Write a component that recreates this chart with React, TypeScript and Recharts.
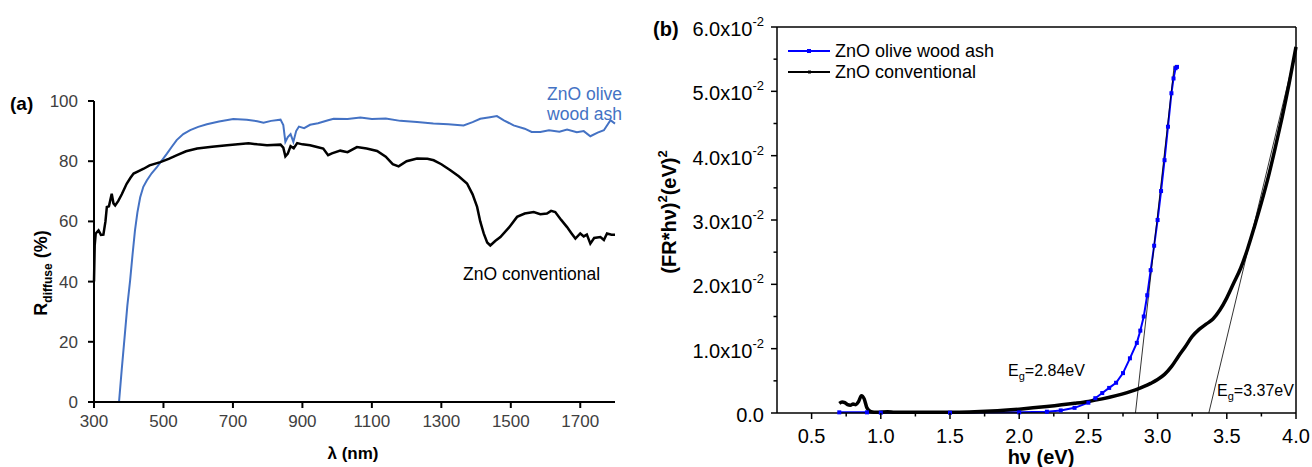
import React from 'react';
import { LineChart, Line, XAxis, YAxis, ReferenceLine } from 'recharts';

const FONT = '"Liberation Sans", Arial, Helvetica, sans-serif';

// ---------- Panel (a): diffuse reflectance ----------
const wavelengthTicks = [300, 500, 700, 900, 1100, 1300, 1500, 1700];
const reflectanceTicks = [0, 20, 40, 60, 80, 100];

const oliveAshLambda = [300, 372, 380, 389, 396, 404, 411, 418, 425, 433, 442, 452, 466, 481, 495, 510, 524, 538, 557, 577, 600, 625, 660, 701, 740, 770, 788, 810, 837, 845, 851, 858, 866, 874, 882, 890, 905, 922, 945, 974, 990, 1030, 1067, 1100, 1140, 1182, 1230, 1277, 1320, 1364, 1390, 1412, 1440, 1460, 1480, 1508, 1540, 1560, 1585, 1610, 1640, 1662, 1690, 1710, 1729, 1750, 1768, 1787, 1800];
const oliveAshR = [0, 0, 11, 22.7, 32, 40.4, 49, 57, 63, 68, 71.5, 73.6, 76, 78, 80.2, 82.5, 84.8, 87, 89, 90.3, 91.4, 92.3, 93.2, 94, 93.8, 93.3, 92.8, 93.4, 93.8, 92, 86.4, 88, 89, 86.4, 90, 91.5, 91, 92.1, 92.6, 93.6, 94.1, 94, 94.5, 94, 94.2, 93.4, 93, 92.5, 92.3, 91.9, 93, 94.1, 94.6, 95, 93.6, 91.9, 90.8, 89.7, 89.7, 90.3, 89.8, 90.5, 89.6, 90, 88.3, 89.5, 90.3, 93.6, 92.5];

const conventionalLambda = [300, 302, 305, 313, 320, 327, 333, 337, 343, 351, 356, 361, 370, 380, 394, 405, 414, 430, 443, 460, 491, 515, 539, 565, 597, 640, 683, 745, 770, 798, 837, 845, 851, 858, 866, 875, 885, 900, 922, 942, 960, 974, 985, 1009, 1030, 1057, 1085, 1115, 1140, 1160, 1177, 1200, 1230, 1260, 1278, 1300, 1326, 1350, 1374, 1390, 1403, 1412, 1422, 1432, 1441, 1455, 1470, 1495, 1518, 1540, 1566, 1585, 1604, 1616, 1628, 1645, 1662, 1675, 1686, 1700, 1710, 1719, 1729, 1740, 1758, 1768, 1777, 1790, 1800];
const conventionalR = [40, 52, 56, 57, 55.5, 55.6, 60, 64.8, 65, 69.2, 66, 65.3, 66.8, 69, 72.5, 74.5, 75.9, 76.8, 77.5, 78.6, 79.7, 80.8, 82, 83.3, 84.2, 84.8, 85.3, 86, 85.6, 85.3, 85.5, 84.5, 81.6, 82.5, 85, 84.3, 86, 85.6, 85.3, 84.7, 84.2, 82, 82.6, 83.5, 83, 84.7, 84.2, 83.4, 81.5, 79, 78.3, 80, 80.9, 80.8, 80.3, 79, 77, 75, 72.6, 69, 64.8, 60, 56, 53, 52, 53.5, 54.8, 58, 61.5, 62.6, 63.1, 62.4, 62.6, 63.5, 63.1, 60.5, 58.1, 56, 54.3, 56, 55, 55.6, 52.6, 54.5, 54.8, 53.8, 56, 55.6, 55.6];

// ---------- Panel (b): Tauc plot ----------
const energyMajorTicks = [0.5, 1.0, 1.5, 2.0, 2.5, 3.0, 3.5, 4.0];
const energyMinorTicks = [0.75, 1.25, 1.75, 2.25, 2.75, 3.25, 3.75];
const taucMajorTicks = [0, 0.01, 0.02, 0.03, 0.04, 0.05, 0.06];
const taucMinorTicks = [0.005, 0.015, 0.025, 0.035, 0.045, 0.055];

const oliveAshEnergy = [0.7, 0.9, 1.0, 1.5, 2.0, 2.2, 2.3, 2.4, 2.5, 2.55, 2.6, 2.65, 2.7, 2.75, 2.8, 2.85, 2.875, 2.9, 2.925, 2.95, 2.975, 3.0, 3.025, 3.05, 3.075, 3.1, 3.115, 3.13, 3.14];
const oliveAshTauc = [0.0001, 0.0001, 0.00005, 0.00005, 0.0001, 0.0002, 0.0004, 0.0008, 0.0016, 0.0023, 0.0031, 0.0039, 0.0047, 0.0062, 0.0085, 0.0109, 0.0128, 0.015, 0.0183, 0.0222, 0.026, 0.03, 0.0345, 0.0393, 0.0445, 0.0497, 0.052, 0.0536, 0.0538];

const conventionalEnergy = [0.7, 0.72, 0.74, 0.76, 0.78, 0.8, 0.82, 0.84, 0.86, 0.88, 0.9, 0.93, 0.97, 1.05, 1.1, 1.5, 1.8, 2.0, 2.2, 2.4, 2.5, 2.6, 2.7, 2.84, 2.95, 3.0, 3.05, 3.1, 3.15, 3.2, 3.25, 3.3, 3.35, 3.4, 3.45, 3.5, 3.55, 3.6, 3.65, 3.7, 3.75, 3.8, 3.85, 3.9, 3.95, 4.0];
const conventionalTauc = [0.0015, 0.0017, 0.0016, 0.0013, 0.0012, 0.0014, 0.0013, 0.0018, 0.0027, 0.0022, 0.0008, 0.0002, 0.0001, 0.0002, 0.0001, 0.0001, 0.0003, 0.0006, 0.001, 0.0015, 0.0018, 0.0022, 0.0027, 0.0036, 0.0046, 0.0052, 0.006, 0.0072, 0.0088, 0.0103, 0.0119, 0.013, 0.0138, 0.0146, 0.016, 0.0179, 0.0202, 0.0225, 0.0255, 0.029, 0.0327, 0.0367, 0.0412, 0.046, 0.0512, 0.0569];

const tangentOliveEnergy = [2.84, 3.12];
const tangentOliveTauc = [0, 0.054];
const tangentConvEnergy = [3.37, 4.0];
const tangentConvTauc = [0, 0.0565];

const zip = (xs: number[], ys: number[]) => xs.map((x, i) => ({ x, y: ys[i] }));

const isMajor = (v: number, majors: number[]) => majors.some((m) => Math.abs(m - v) < 1e-9);

const EnergyTick = (props: any) => {
  const { x, y, payload } = props;
  const major = isMajor(payload.value, energyMajorTicks);
  return (
    <g>
      <line x1={x} x2={x} y1={y} y2={y + (major ? 6 : 3.5)} stroke="#000" strokeWidth={1.5} />
      {major && (
        <text x={x} y={y + 30} textAnchor="middle" fontSize={20} fontFamily={FONT} fill="#000">
          {payload.value.toFixed(1)}
        </text>
      )}
    </g>
  );
};

const TaucTick = (props: any) => {
  const { x, y, payload } = props;
  const major = isMajor(payload.value, taucMajorTicks);
  const v = payload.value;
  return (
    <g>
      <line x1={x} x2={x - (major ? 6 : 3.5)} y1={y} y2={y} stroke="#000" strokeWidth={1.5} />
      {major && (
        <text x={x - 13} y={y + 9} textAnchor="end" fontSize={20} fontFamily={FONT} fill="#000">
          {v === 0 ? (
            '0.0'
          ) : (
            <>
              <tspan>{(v * 100).toFixed(1)}x10</tspan>
              <tspan dy={-10} fontSize={13}>-2</tspan>
            </>
          )}
        </text>
      )}
    </g>
  );
};

const BlueSquare = (props: any) => {
  const { cx, cy, index } = props;
  if (cx == null || cy == null) return <g key={index} />;
  return <rect key={index} x={cx - 2} y={cy - 2} width={4} height={4} fill="#0000FF" />;
};

export default function App() {
  const oliveA = zip(oliveAshLambda, oliveAshR);
  const convA = zip(conventionalLambda, conventionalR);
  const oliveB = zip(oliveAshEnergy, oliveAshTauc);
  const convB = zip(conventionalEnergy, conventionalTauc);
  const tanOlive = zip(tangentOliveEnergy, tangentOliveTauc);
  const tanConv = zip(tangentConvEnergy, tangentConvTauc);

  return (
    <div style={{ position: 'absolute', left: 0, top: 0, width: 1312, height: 467, background: '#fff', fontFamily: FONT }}>
      <div style={{ position: 'absolute', left: 0, top: 0 }}>
        <LineChart width={640} height={467} margin={{ top: 101, right: 25, bottom: 35, left: 34 }}>
          <XAxis
            type="number"
            dataKey="x"
            domain={[300, 1800]}
            ticks={wavelengthTicks}
            interval={0}
            height={30}
            axisLine={{ stroke: '#000', strokeWidth: 2 }}
            tickLine={{ stroke: '#000', strokeWidth: 2 }}
            tickSize={6}
            tickMargin={7}
            tick={{ fill: '#404040', fontSize: 17, fontFamily: FONT }}
          />
          <YAxis
            type="number"
            domain={[0, 100]}
            ticks={reflectanceTicks}
            interval={0}
            width={60}
            axisLine={{ stroke: '#000', strokeWidth: 2 }}
            tickLine={{ stroke: '#000', strokeWidth: 2 }}
            tickSize={6}
            tickMargin={10}
            tick={{ fill: '#404040', fontSize: 17, fontFamily: FONT }}
          />
          <Line data={oliveA} dataKey="y" stroke="#4472C4" strokeWidth={2} dot={false} isAnimationActive={false} type="linear" />
          <Line data={convA} dataKey="y" stroke="#000" strokeWidth={2.5} dot={false} isAnimationActive={false} type="linear" />
        </LineChart>
      </div>

      <div style={{ position: 'absolute', left: 640, top: 0 }}>
        <LineChart width={672} height={467} margin={{ top: 27, right: 16, bottom: 24, left: 37 }}>
          <XAxis
            type="number"
            dataKey="x"
            domain={[0.25, 4.0]}
            ticks={[...energyMajorTicks, ...energyMinorTicks].sort((a, b) => a - b)}
            interval={0}
            height={30}
            axisLine={{ stroke: '#000', strokeWidth: 1.5 }}
            tickLine={false}
            tickSize={0}
            tickMargin={0}
            tick={<EnergyTick />}
          />
          <YAxis
            type="number"
            domain={[0, 0.06]}
            ticks={[...taucMajorTicks, ...taucMinorTicks].sort((a, b) => a - b)}
            interval={0}
            width={100}
            axisLine={{ stroke: '#000', strokeWidth: 1.5 }}
            tickLine={false}
            tickSize={0}
            tickMargin={0}
            tick={<TaucTick />}
          />
          <ReferenceLine y={0.06} stroke="#000" strokeWidth={1.5} />
          <ReferenceLine x={4.0} stroke="#000" strokeWidth={1.5} />
          <Line data={oliveB} dataKey="y" stroke="#0000FF" strokeWidth={2} dot={<BlueSquare />} isAnimationActive={false} type="linear" />
          <Line data={convB} dataKey="y" stroke="#000" strokeWidth={3.5} dot={false} isAnimationActive={false} type="monotone" />
          <Line data={tanOlive} dataKey="y" stroke="#000" strokeWidth={0.8} dot={false} isAnimationActive={false} type="linear" />
          <Line data={tanConv} dataKey="y" stroke="#000" strokeWidth={0.8} dot={false} isAnimationActive={false} type="linear" />
        </LineChart>
      </div>

      <svg width={1312} height={467} style={{ position: 'absolute', left: 0, top: 0, pointerEvents: 'none' }} fontFamily={FONT}>
        {/* panel (a) texts */}
        <text x={10} y={110} fontSize={19} fontWeight="bold" fill="#000">(a)</text>
        <text x={622} y={100} fontSize={17.5} fill="#4472C4" textAnchor="end">ZnO olive</text>
        <text x={622} y={120} fontSize={17.5} fill="#4472C4" textAnchor="end">wood ash</text>
        <text x={463} y={280} fontSize={17.5} fill="#000">ZnO conventional</text>
        <text x={353} y={459} fontSize={17} fontWeight="bold" fill="#000" textAnchor="middle">λ (nm)</text>
        <text transform="translate(47,273) rotate(-90)" fontSize={18} fontWeight="bold" fill="#000" textAnchor="middle">
          <tspan>R</tspan>
          <tspan fontSize={12} dy={5}>diffuse</tspan>
          <tspan dy={-5}> (%)</tspan>
        </text>

        {/* panel (b) texts */}
        <text x={653} y={36} fontSize={20} fontWeight="bold" fill="#000">(b)</text>
        <text transform="translate(676,212) rotate(-90)" fontSize={20} fontWeight="bold" fill="#000" textAnchor="middle">
          <tspan>(FR*hν)</tspan>
          <tspan fontSize={13} dy={-9}>2</tspan>
          <tspan dy={9}>(eV)</tspan>
          <tspan fontSize={13} dy={-9}>2</tspan>
        </text>
        <text x={1041} y={464} fontSize={20} fontWeight="bold" fill="#000" textAnchor="middle">hν (eV)</text>
        <text x={1008} y={376} fontSize={16} fill="#000">
          <tspan>E</tspan>
          <tspan fontSize={11} dy={4}>g</tspan>
          <tspan dy={-4}>=2.84eV</tspan>
        </text>
        <text x={1217} y={396} fontSize={16} fill="#000">
          <tspan>E</tspan>
          <tspan fontSize={11} dy={4}>g</tspan>
          <tspan dy={-4}>=3.37eV</tspan>
        </text>

        {/* legend */}
        <line x1={788} x2={830} y1={51} y2={51} stroke="#0000FF" strokeWidth={2} />
        <rect x={807} y={49} width={4} height={4} fill="#0000FF" />
        <text x={835} y={57} fontSize={18} fill="#000">ZnO olive wood ash</text>
        <line x1={788} x2={830} y1={72} y2={72} stroke="#000" strokeWidth={2} />
        <rect x={808} y={70.5} width={3} height={3} fill="#000" />
        <text x={835} y={78} fontSize={18} fill="#000">ZnO conventional</text>
      </svg>
    </div>
  );
}
